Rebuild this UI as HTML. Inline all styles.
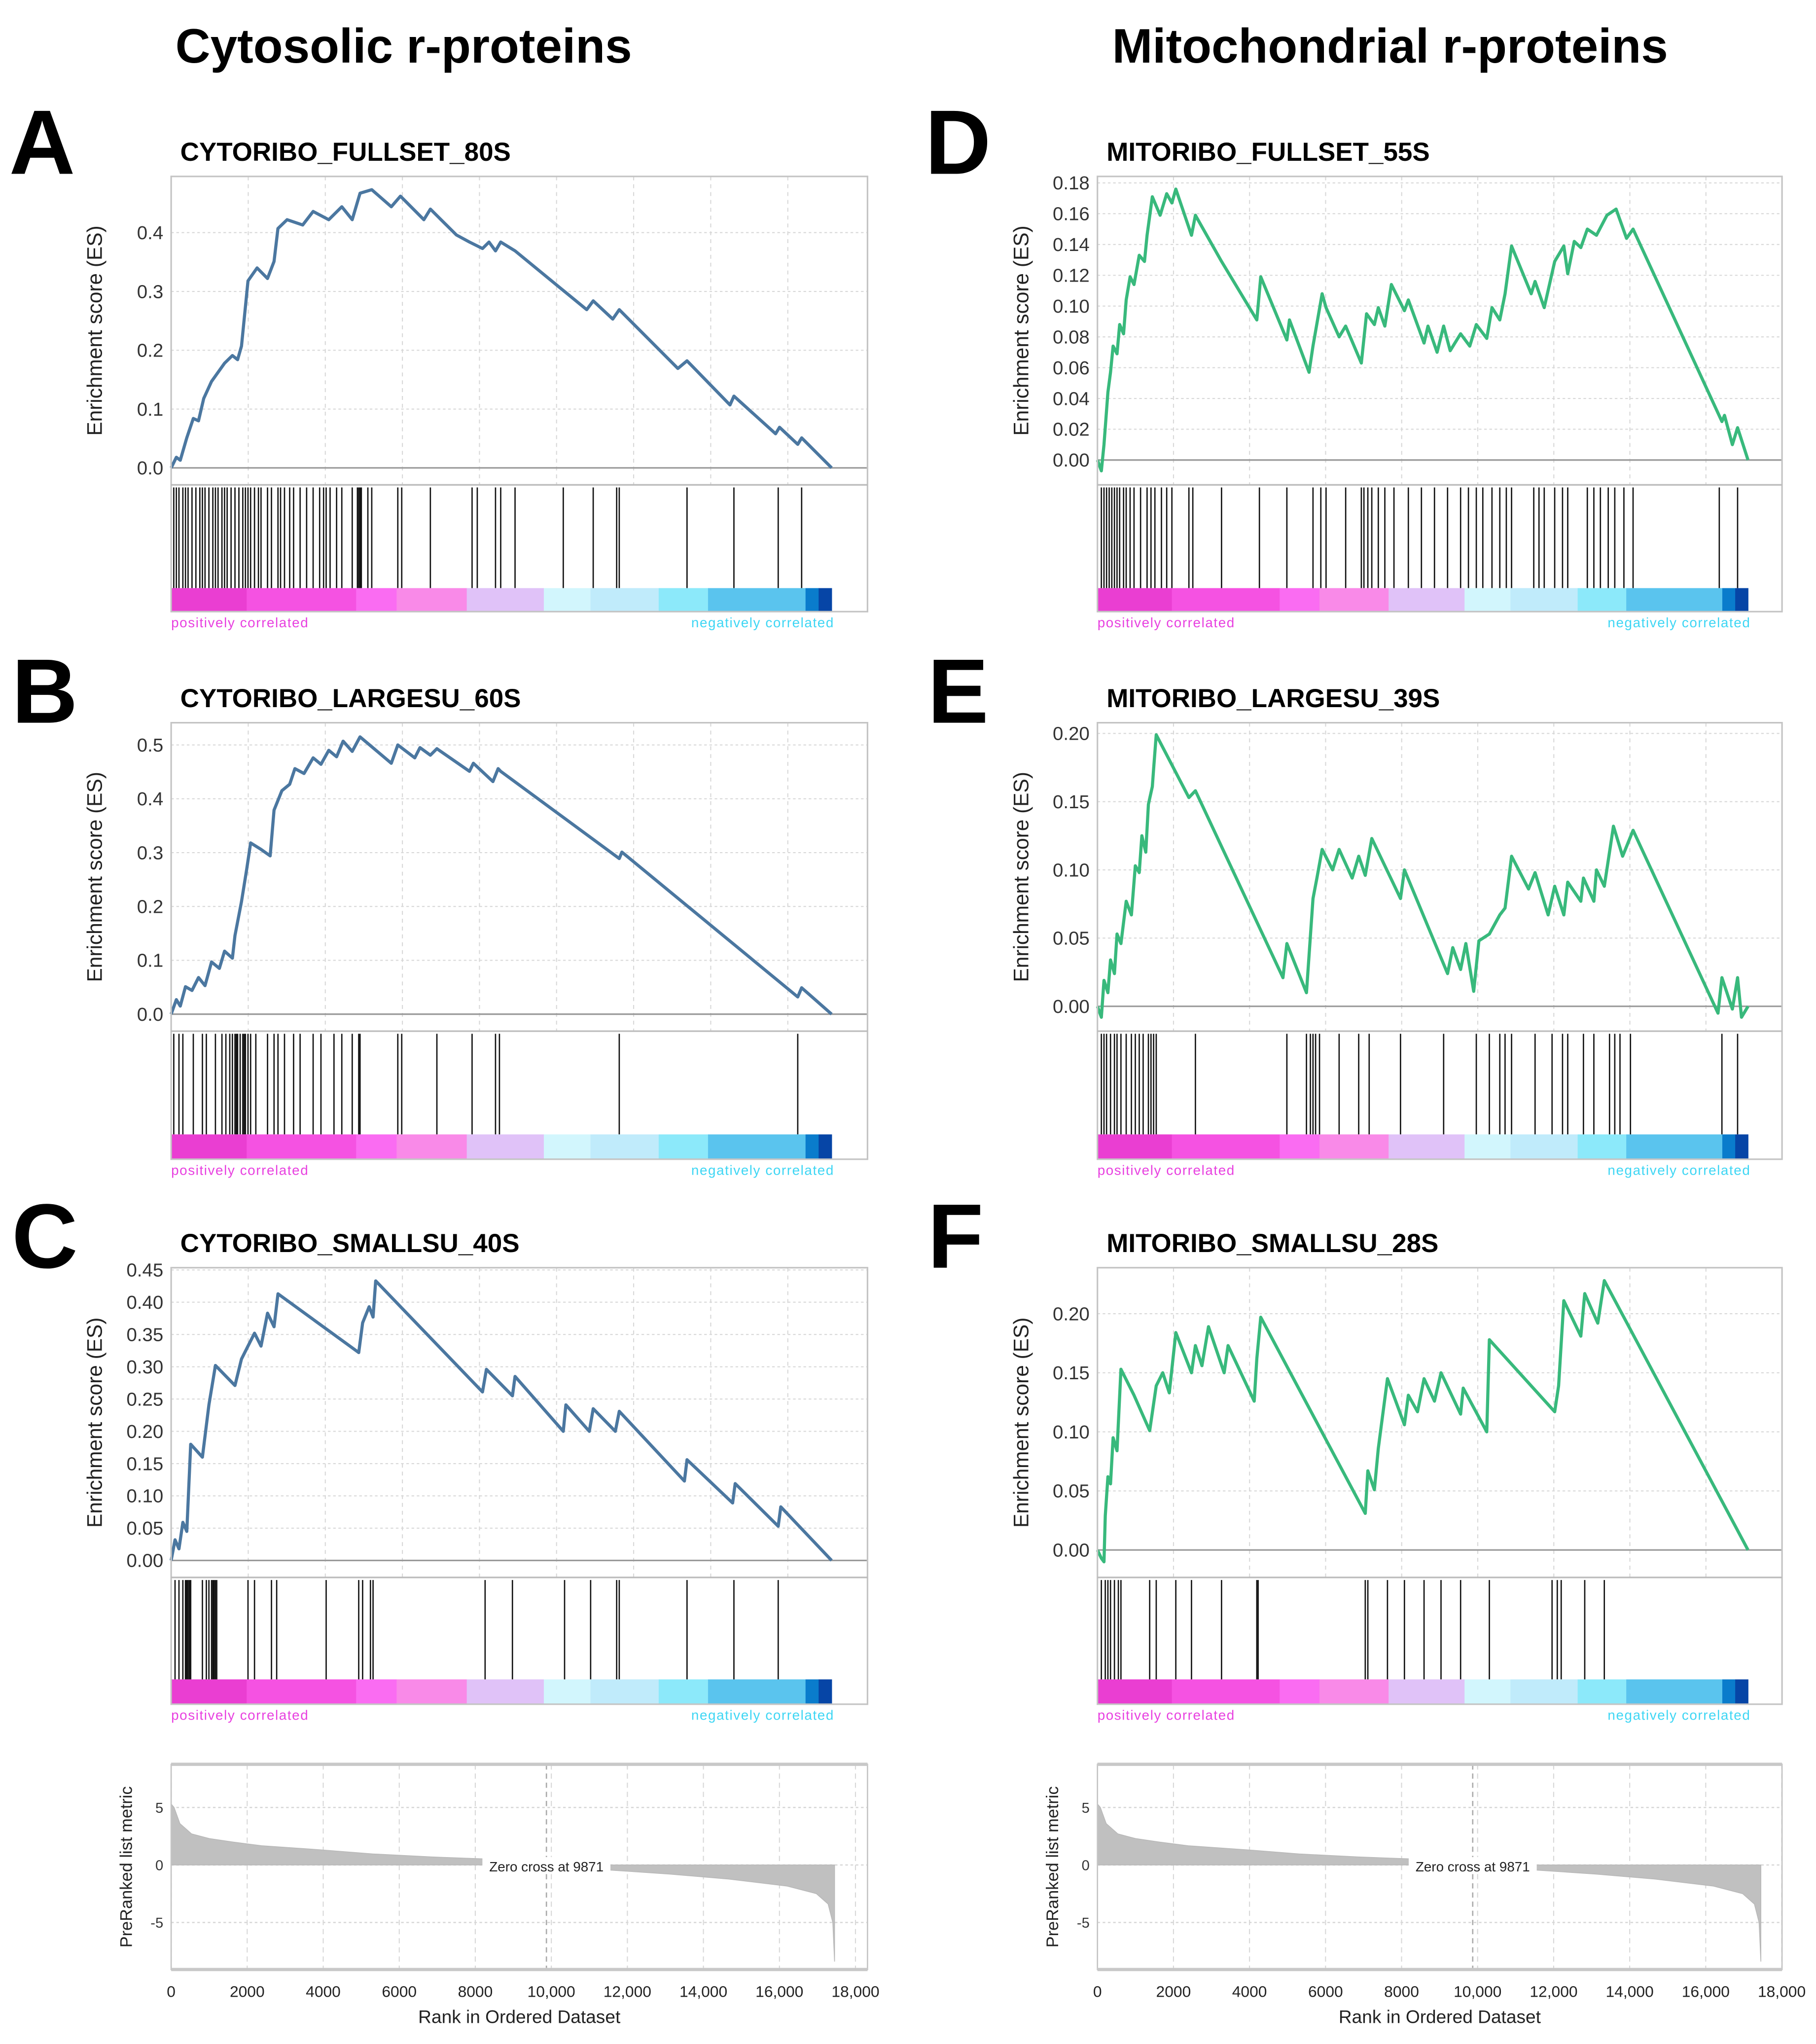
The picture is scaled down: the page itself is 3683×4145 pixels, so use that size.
<!DOCTYPE html>
<html><head><meta charset="utf-8"><title>GSEA r-proteins</title>
<style>html,body{margin:0;padding:0;background:#fff;}svg{display:block;}</style></head>
<body>
<svg id="fig" xmlns="http://www.w3.org/2000/svg" width="3683" height="4145" viewBox="0 0 1390 1564" preserveAspectRatio="none" font-family="Liberation Sans, Arial, sans-serif">
<text x="309" y="48" text-anchor="middle" font-size="37" font-weight="bold">Cytosolic r-proteins</text>
<text x="1064" y="48" text-anchor="middle" font-size="37" font-weight="bold">Mitochondrial r-proteins</text>
<text x="7" y="133" font-size="70" font-weight="bold">A</text>
<text x="9" y="553" font-size="70" font-weight="bold">B</text>
<text x="9" y="970" font-size="70" font-weight="bold">C</text>
<text x="708" y="133" font-size="70" font-weight="bold">D</text>
<text x="710" y="553" font-size="70" font-weight="bold">E</text>
<text x="710" y="970" font-size="70" font-weight="bold">F</text>
</svg>
<script>
// ---------- DATA ----------
const aRank=[0,135,237,405,575,710,845,1048,1386,1589,1724,1825,1994,2230,2500,2670,2771,3008,3414,3684,4090,4428,4698,4901,5205,5712,5949,6557,6726,7402,7740,8078,8247,8416,8551,8923,10782,10951,11458,11627,13148,13385,14500,14602,15683,15785,16258,16360,17137];
const aES=[0,.018,.013,.051,.084,.08,.118,.147,.178,.191,.184,.207,.318,.34,.322,.351,.407,.422,.413,.436,.422,.444,.422,.467,.473,.444,.462,.422,.44,.396,.384,.373,.384,.369,.384,.369,.269,.284,.253,.269,.169,.182,.107,.122,.058,.069,.04,.051,0];
const aHits=[68,135,203,304,372,439,541,642,744,811,879,980,1082,1149,1217,1318,1386,1453,1555,1656,1758,1859,1927,1994,2062,2163,2265,2332,2501,2603,2772,2839,2941,3076,3177,3346,3515,3684,3853,3955,4022,4124,4293,4428,4698,4833,4867,4901,4935,5104,5205,5881,5983,6726,7808,7943,8416,8551,8923,10174,10951,11560,11627,13385,14602,15751,16359];
const aTicks=[0,0.1,0.2,0.3,0.4];

const bRank=[0,135,237,372,541,710,879,1048,1251,1386,1589,1656,1825,1960,2062,2332,2569,2670,2873,3076,3211,3448,3684,3887,4090,4293,4462,4698,4901,5712,5881,6321,6456,6726,6895,7740,7842,8349,8484,8551,11627,11695,16258,16359,17137];
const bES=[0,.027,.015,.051,.044,.068,.053,.097,.085,.117,.104,.146,.209,.269,.318,.306,.294,.379,.415,.427,.456,.447,.476,.464,.49,.478,.507,.488,.515,.466,.5,.476,.495,.481,.493,.451,.466,.432,.456,.451,.289,.301,.032,.049,0];
const bHits=[68,203,304,575,811,913,1149,1318,1420,1521,1589,1656,1690,1724,1791,1859,1893,1927,1994,2062,2197,2501,2670,2772,2941,3177,3346,3684,3887,4225,4428,4698,4867,4901,5881,5983,6895,7808,8416,8518,11627,16258];
const bTicks=[0,0.1,0.2,0.3,0.4,0.5];

const cRank=[0,101,203,304,406,507,811,980,1149,1656,1825,1994,2163,2332,2501,2670,2772,4867,4968,5137,5239,5307,8078,8180,8855,8923,10174,10242,10850,10951,11525,11627,13317,13385,14568,14635,15751,15818,17137];
const cES=[0,.032,.018,.059,.045,.18,.16,.241,.302,.271,.312,.332,.352,.332,.383,.362,.413,.322,.368,.393,.377,.433,.261,.296,.255,.285,.2,.241,.2,.235,.2,.231,.123,.156,.089,.119,.053,.083,0];
const cHits=[101,203,304,372,406,439,473,507,811,913,980,1048,1082,1115,1149,1183,1994,2163,2603,2738,4022,4867,4968,5171,5239,8146,8855,10208,10884,11560,11627,13385,14602,15751];
const cTicks=[0,0.05,0.1,0.15,0.2,0.25,0.3,0.35,0.4,0.45];

const dRank=[0,103,172,275,344,412,515,584,687,756,859,962,1099,1237,1305,1443,1649,1821,1958,2061,2473,2576,3263,4191,4294,4981,5049,5564,5667,5908,6011,6355,6526,6939,7076,7282,7385,7557,7729,8072,8175,8588,8691,8931,9103,9275,9549,9790,9962,10237,10374,10580,10718,10889,11405,11507,11748,12023,12263,12366,12538,12710,12882,13122,13397,13638,13912,14084,16420,16488,16695,16832,17106];
const dES=[0,-.007,.01,.044,.057,.074,.069,.088,.082,.104,.119,.114,.133,.129,.146,.171,.159,.173,.167,.176,.146,.159,.129,.091,.119,.078,.091,.057,.074,.108,.099,.08,.087,.063,.095,.088,.099,.087,.114,.097,.104,.076,.087,.07,.087,.071,.082,.074,.088,.079,.099,.091,.108,.139,.108,.116,.099,.129,.139,.121,.142,.138,.15,.146,.159,.163,.144,.15,.025,.029,.01,.021,0];
const dHits=[103,172,240,309,378,447,515,584,687,756,859,962,1134,1305,1408,1511,1683,1821,1958,2405,2508,3263,4259,4981,5668,5874,6011,6527,6939,7007,7110,7214,7385,7557,7797,8175,8519,8862,9206,9549,9755,9962,10133,10374,10580,10751,10889,11473,11610,11748,12023,12229,12366,12881,13053,13225,13431,13603,13843,14084,16351,16832];
const dTicks=[0,0.02,0.04,0.06,0.08,0.1,0.12,0.14,0.16,0.18];

const eRank=[0,103,172,275,344,447,515,618,756,893,996,1099,1168,1271,1340,1443,1477,1546,2405,2576,4878,4981,5496,5668,5771,5908,6183,6355,6698,6870,7042,7214,7969,8072,9206,9343,9549,9687,9893,10030,10305,10580,10718,10889,11336,11507,11851,12023,12263,12366,12710,12779,13053,13122,13328,13568,13809,14084,16317,16420,16695,16832,16935,17106];
const eES=[0,-.008,.019,.01,.034,.024,.053,.046,.077,.067,.103,.098,.125,.113,.148,.161,.174,.199,.153,.158,.021,.046,.01,.079,.094,.115,.1,.115,.094,.11,.096,.123,.079,.1,.024,.043,.027,.046,.011,.048,.053,.067,.072,.11,.086,.098,.067,.088,.067,.091,.077,.094,.077,.1,.088,.132,.11,.129,-.005,.021,-.002,.021,-.008,0];
const eHits=[103,172,240,344,447,515,618,756,893,996,1099,1202,1340,1408,1477,1546,2576,4981,5496,5599,5668,5736,5839,6355,6870,7145,7969,9103,9962,10305,10580,10718,10889,11507,11954,12229,12366,12779,13053,13465,13603,13740,14015,16420,16832];
const eTicks=[0,0.05,0.1,0.15,0.2];

const fRank=[0,103,172,206,275,344,412,515,618,962,1374,1546,1718,1889,2061,2473,2576,2748,2920,3332,3435,4122,4191,4294,7042,7110,7282,7385,7626,8072,8175,8416,8588,8862,9034,9549,9618,10237,10305,12023,12126,12263,12710,12813,13156,13328,17106];
const fES=[0,-.007,-.01,.029,.062,.056,.095,.084,.153,.131,.101,.139,.15,.133,.184,.15,.173,.156,.189,.15,.173,.126,.162,.197,.031,.067,.051,.086,.145,.106,.131,.117,.145,.126,.15,.115,.137,.1,.178,.117,.139,.211,.181,.217,.192,.228,0];
const fHits=[103,206,275,344,447,550,618,1374,1546,2061,2473,3263,4191,4225,7042,7110,7626,8072,8588,9034,9549,10305,11954,12091,12194,12813,13328];
const fTicks=[0,0.05,0.1,0.15,0.2];

const cbBounds=[0,1960,4800,5850,7670,9670,10880,12650,13930,16460,16800,17137];
const cbColors=['#ea3ed2','#f552e2','#fa6cf2','#f98ae8','#e0c2f8','#d2f6fd','#c0ebfb','#8ce9fa','#5ac4ee','#0a7ccc','#0645a6'];

const metricRank=[0,77,230,538,998,1613,2381,3917,5300,6835,8218,9871,11520,13133,14669,16205,16973,17280,17403,17450];
const metricVal=[5.3,5.0,3.6,2.7,2.3,2.0,1.67,1.32,0.96,0.70,0.53,0,-0.44,-0.8,-1.23,-1.84,-2.5,-3.4,-5,-8.4];
const metricTicks=[5,0,-5];
const rankTicks=[0,2000,4000,6000,8000,10000,12000,14000,16000,18000];
const zeroCross=9871;

// ---------- DRAWING ----------
const NS='http://www.w3.org/2000/svg';
const svg=document.getElementById('fig');
function mk(tag,attrs,parent){const e=document.createElementNS(NS,tag);for(const k in attrs)e.setAttribute(k,attrs[k]);(parent||svg).appendChild(e);return e;}
function fmtRank(v){return v>=10000?(Math.floor(v/1000)+','+String(v%1000).padStart(3,'0')):String(v);}

function drawPanel(id,cfg,ranks,es,hits,ticks,dec,color,title){
  const g=mk('g',{});
  
  
  const sx=r=>cfg.x0+r*cfg.slope, sy=v=>cfg.zero-v*cfg.ppu;
  const t=mk('text',{x:cfg.x0+7,y:cfg.top-12,'font-size':20,'font-weight':'bold'},g);
  t.textContent=title;
  
  
  for(let r=2000;sx(r)<cfg.right-2;r+=2000){
    const l=mk('line',{x1:sx(r),x2:sx(r),y1:cfg.top,y2:cfg.sep,stroke:'#d8d8d8','stroke-width':0.8,'stroke-dasharray':'3,3'},g);
    
    
  }
  ticks.forEach(v=>{
    const y=sy(v);
    if(v!==0){const l=mk('line',{x1:cfg.x0,x2:cfg.right,y1:y,y2:y,stroke:'#d8d8d8','stroke-width':0.8,'stroke-dasharray':'2,2'},g);
    
    }
    const tl=mk('text',{x:cfg.x0-6,y:y+5,'text-anchor':'end','font-size':14.5,fill:'#333'},g);
    tl.textContent=v.toFixed(dec);
    
    
  });
  const zl=mk('line',{x1:cfg.x0,x2:cfg.right,y1:sy(0),y2:sy(0),stroke:'#9a9a9a','stroke-width':1.2},g);
  
  
  const yt=mk('text',{x:0,y:0,'font-size':16,fill:'#222','text-anchor':'middle',transform:'translate('+(cfg.x0-53)+','+((cfg.top+cfg.sep)/2)+') rotate(-90)'},g);
  yt.textContent='Enrichment score (ES)';
  
  
  const d=ranks.map((r,i)=>(i?'L':'M')+sx(r).toFixed(2)+','+sy(es[i]).toFixed(2)).join('');
  const p=mk('path',{d:d,fill:'none',stroke:color,'stroke-width':2.4,'stroke-linejoin':'round'},g);
  
  
  hits.forEach(r=>{
    const l=mk('line',{x1:sx(r),x2:sx(r),y1:cfg.sep+2,y2:cfg.cb,stroke:'#111','stroke-width':1},g);
    
    
  });
  const endR=ranks[ranks.length-1];
  for(let i=0;i<cbColors.length;i++){
    const a=cbBounds[i]*endR/cbBounds[cbBounds.length-1], b=cbBounds[i+1]*endR/cbBounds[cbBounds.length-1];
    const rc=mk('rect',{x:sx(a),y:cfg.cb,width:sx(b)-sx(a)+0.3,height:cfg.cbEnd-cfg.cb,fill:cbColors[i]},g);
    
    
  }
  const fr=mk('rect',{x:cfg.x0,y:cfg.top,width:cfg.right-cfg.x0,height:cfg.cbEnd-cfg.top,fill:'none',stroke:'#c4c4c4','stroke-width':1.2},g);
  
  
  const sp=mk('line',{x1:cfg.x0,x2:cfg.right,y1:cfg.sep,y2:cfg.sep,stroke:'#bbb','stroke-width':1.2},g);
  
  
  const pos=mk('text',{x:cfg.x0,y:cfg.cbEnd+12,'font-size':10.5,fill:'#e840e0','letter-spacing':'0.6'},g);
  pos.textContent='positively correlated';
  
  
  const neg=mk('text',{x:sx(endR)+2,y:cfg.cbEnd+12,'font-size':10.5,fill:'#3ed6f4','text-anchor':'end','letter-spacing':'0.6'},g);
  neg.textContent='negatively correlated';
  
  
}

function drawMetric(id,cfg){
  const g=mk('g',{});
  
  
  const sx=r=>cfg.x0+r*cfg.slope, sy=v=>cfg.zero-v*cfg.ppu;
  rankTicks.forEach(r=>{
    const l=mk('line',{x1:sx(r),x2:sx(r),y1:cfg.top,y2:cfg.bottom,stroke:'#d8d8d8','stroke-width':0.8,'stroke-dasharray':'4,3'},g);
    
    
    const tl=mk('text',{x:sx(r),y:cfg.bottom+21,'font-size':12,'text-anchor':'middle',fill:'#222'},g);
    tl.textContent=fmtRank(r);
    
    
  });
  metricTicks.forEach(v=>{
    const l=mk('line',{x1:cfg.x0,x2:cfg.right,y1:sy(v),y2:sy(v),stroke:'#d8d8d8','stroke-width':1,'stroke-dasharray':'2,2'},g);
    
    
    const tl=mk('text',{x:cfg.x0-6,y:sy(v)+4,'font-size':11,'text-anchor':'end',fill:'#333'},g);
    tl.textContent=String(v);
    
    
  });
  let d='M'+sx(0)+','+sy(0);
  metricRank.forEach((r,i)=>{d+='L'+sx(r).toFixed(2)+','+sy(metricVal[i]).toFixed(2);});
  d+='L'+sx(metricRank[metricRank.length-1])+','+sy(0)+'Z';
  const a=mk('path',{d:d,fill:'#c0c0c0',stroke:'#b8b8b8','stroke-width':0.6},g);
  
  
  const zc=mk('line',{x1:sx(zeroCross),x2:sx(zeroCross),y1:cfg.top,y2:cfg.bottom,stroke:'#aaa','stroke-width':1,'stroke-dasharray':'4,3'},g);
  
  
  const bg=mk('rect',{x:sx(zeroCross)-49,y:sy(0)-6,width:98,height:13,fill:'#fff'},g);
  
  
  const zt=mk('text',{x:sx(zeroCross),y:sy(0)+5,'font-size':10.5,'text-anchor':'middle',fill:'#222'},g);
  zt.textContent='Zero cross at '+zeroCross;
  
  
  const fr=mk('rect',{x:cfg.x0,y:cfg.top,width:cfg.right-cfg.x0,height:cfg.bottom-cfg.top,fill:'none',stroke:'#c4c4c4','stroke-width':1},g);
  
  
  [cfg.top,cfg.bottom].forEach(y=>{const l=mk('line',{x1:cfg.x0,x2:cfg.right,y1:y,y2:y,stroke:'#c8c8c8','stroke-width':2.5},g);
    
    });
  const yt=mk('text',{x:0,y:0,'font-size':13,'text-anchor':'middle',fill:'#222',transform:'translate('+(cfg.x0-30)+','+((cfg.top+cfg.bottom)/2)+') rotate(-90)'},g);
  yt.textContent='PreRanked list metric';
  
  
  const xt=mk('text',{x:(cfg.x0+cfg.right)/2,y:cfg.bottom+41,'font-size':14,'text-anchor':'middle',fill:'#222'},g);
  xt.textContent='Rank in Ordered Dataset';
  
  
}

const blue='#4b77a0', green='#38b97c';
const L={x0:131,slope:0.0295,right:664}, R={x0:840,slope:0.02911,right:1364};
drawPanel('a',Object.assign({top:135,zero:358,ppu:450,sep:371,cb:450,cbEnd:468},L),aRank,aES,aHits,aTicks,1,blue,'CYTORIBO_FULLSET_80S');
drawPanel('b',Object.assign({top:553,zero:776,ppu:412,sep:789,cb:868,cbEnd:887},L),bRank,bES,bHits,bTicks,1,blue,'CYTORIBO_LARGESU_60S');
drawPanel('c',Object.assign({top:970,zero:1194,ppu:494,sep:1207,cb:1285,cbEnd:1304},L),cRank,cES,cHits,cTicks,2,blue,'CYTORIBO_SMALLSU_40S');
drawPanel('d',Object.assign({top:135,zero:352,ppu:1178,sep:371,cb:450,cbEnd:468},R),dRank,dES,dHits,dTicks,2,green,'MITORIBO_FULLSET_55S');
drawPanel('e',Object.assign({top:553,zero:770,ppu:1044,sep:789,cb:868,cbEnd:887},R),eRank,eES,eHits,eTicks,2,green,'MITORIBO_LARGESU_39S');
drawPanel('f',Object.assign({top:970,zero:1186,ppu:904,sep:1207,cb:1285,cbEnd:1304},R),fRank,fES,fHits,fTicks,2,green,'MITORIBO_SMALLSU_28S');
drawMetric('left',{x0:131,slope:0.0291,right:664,top:1350,bottom:1507,zero:1427,ppu:8.8});
drawMetric('right',{x0:840,slope:0.0291,right:1364,top:1350,bottom:1507,zero:1427,ppu:8.8});
</script>
</body></html>
